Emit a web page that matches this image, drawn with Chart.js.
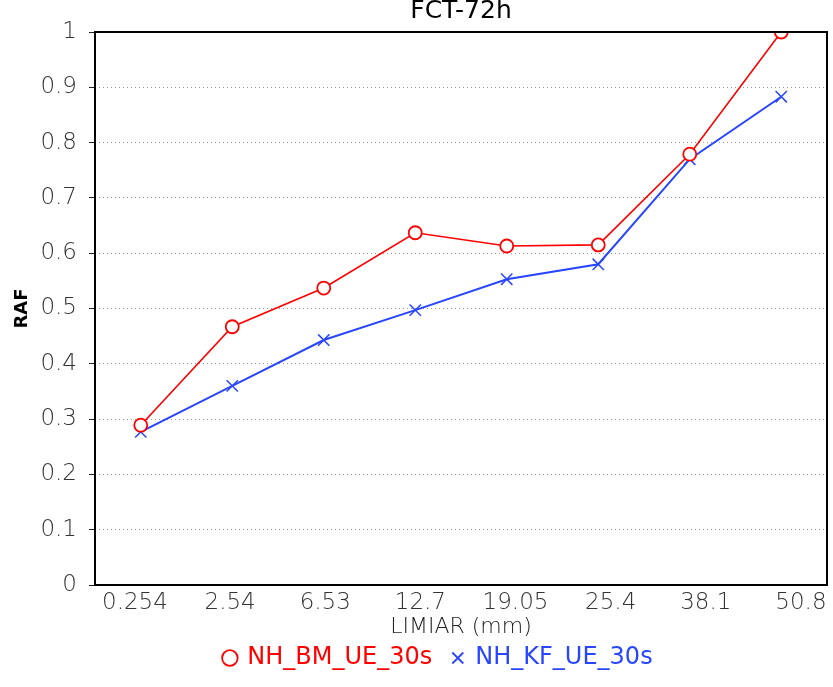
<!DOCTYPE html>
<html>
<head>
<meta charset="utf-8">
<script src="https://cdn.jsdelivr.net/npm/chart.js@4.4.1/dist/chart.umd.min.js"></script>
<style>
  html, body { margin: 0; padding: 0; background: #fff; }
  #wrap { width: 833px; height: 687px; }
</style>
</head>
<body>
<div id="wrap"><canvas id="chart" width="833" height="687"></canvas></div>
<script>
  // thresholds (mm) and scores per run
  const limiares = ['0.254', '2.54', '6.53', '12.7', '19.05', '25.4', '38.1', '50.8'];
  const bmScores = [0.289, 0.467, 0.537, 0.637, 0.613, 0.615, 0.779, 1.0];
  const kfScores = [0.277, 0.360, 0.443, 0.497, 0.553, 0.580, 0.770, 0.883];
  const seriesNames = ['NH_BM_UE_30s', 'NH_KF_UE_30s'];
  const yTicks = [0, 0.1, 0.2, 0.3, 0.4, 0.5, 0.6, 0.7, 0.8, 0.9, 1];

  const RED = '#ff0000';
  const BLUE = 'rgb(40,70,255)';
  const thinFont = 'DejaVu Sans';

  const noSidePadding = (s)=>{ s.paddingLeft = 0; s.paddingRight = 0; };

  // title text + black frame around the plot
  const framePlugin = {
    id: 'frame',
    afterLayout(chart){
      // nudge the legend row to the right of the canvas centre
      if (chart.legend) chart.legend.left += 50;
    },
    afterDraw(chart){
      const {ctx, chartArea: a} = chart;
      ctx.save();
      ctx.strokeStyle = '#000';
      ctx.lineWidth = 2;
      ctx.strokeRect(a.left, a.top, a.right - a.left, a.bottom - a.top);
      ctx.fillStyle = '#000';
      ctx.font = 'normal 25px "' + thinFont + '"';
      ctx.textAlign = 'center';
      ctx.textBaseline = 'alphabetic';
      ctx.fillText('FCT-72h', (a.left + a.right) / 2, 18);
      ctx.restore();
    }
  };

  const ctx = document.getElementById('chart').getContext('2d');
  new Chart(ctx, {
    type: 'line',
    data: {
      labels: limiares,
      datasets: [
        {
          label: seriesNames[0],
          data: bmScores,
          borderColor: RED,
          borderWidth: 1.6,
          pointStyle: 'circle',
          pointRadius: 6.5,
          pointBorderWidth: 1.8,
          pointBackgroundColor: '#fff',
          pointBorderColor: RED,
          tension: 0
        },
        {
          label: seriesNames[1],
          data: kfScores,
          borderColor: BLUE,
          borderWidth: 2,
          pointStyle: 'crossRot',
          pointRadius: 8,
          pointBorderWidth: 1.5,
          pointBorderColor: BLUE,
          tension: 0
        }
      ]
    },
    options: {
      responsive: false,
      animation: false,
      layout: { autoPadding: false, padding: { top: 32, left: 0, right: 6, bottom: 7 } },
      plugins: {
        title: { display: false },
        tooltip: { enabled: false },
        legend: {
          position: 'bottom',
          labels: {
            usePointStyle: true,
            boxWidth: 11,
            boxHeight: 11,
            padding: 20,
            font: { family: thinFont, size: 24 },
            generateLabels: (chart)=> chart.data.datasets.map((ds, i)=>({
              text: ds.label,
              fontColor: ds.borderColor,
              strokeStyle: ds.borderColor,
              fillStyle: '#fff',
              lineWidth: 1.8,
              pointStyle: ds.pointStyle,
              datasetIndex: i
            }))
          }
        }
      },
      scales: {
        x: {
          type: 'category',
          offset: true,
          display: false,
          afterFit: noSidePadding
        },
        // tick labels and axis title along the bottom
        xl: {
          type: 'linear',
          position: 'bottom',
          min: -0.42,
          max: 7.274,
          grid: { display: false, drawTicks: false },
          border: { display: false },
          afterFit: (s)=>{ s.height = 41; noSidePadding(s); },
          ticks: {
            stepSize: 1,
            includeBounds: false,
            autoSkip: false,
            maxRotation: 0,
            padding: 4,
            color: '#333',
            font: { family: thinFont, size: 23, weight: '200' },
            callback: (v)=> Number.isInteger(v) ? limiares[v] : ''
          },
          title: {
            display: true,
            text: 'LIMIAR (mm)',
            color: '#222',
            font: { family: thinFont, size: 22, weight: '200' },
            padding: { top: 0, bottom: -14 }
          }
        },
        y: {
          min: 0,
          max: 1,
          afterFit: (s)=>{ s.width = 95; },
          afterBuildTicks: (s)=>{ s.ticks = yTicks.map(v=>({ value: v })); },
          border: { display: false, dash: [1, 3] },
          grid: {
            color: '#999',
            tickColor: '#222',
            tickLength: 6,
            tickBorderDash: []
          },
          ticks: {
            padding: 12,
            color: '#333',
            font: { family: thinFont, size: 23, weight: '200' },
            callback: (v)=> String(Math.round(v * 10) / 10)
          },
          title: {
            display: true,
            text: 'RAF',
            color: '#000',
            font: { family: thinFont, size: 18, weight: 'bold' },
            padding: { top: 12, bottom: 0 }
          }
        }
      }
    },
    plugins: [framePlugin]
  });
</script>
</body>
</html>
